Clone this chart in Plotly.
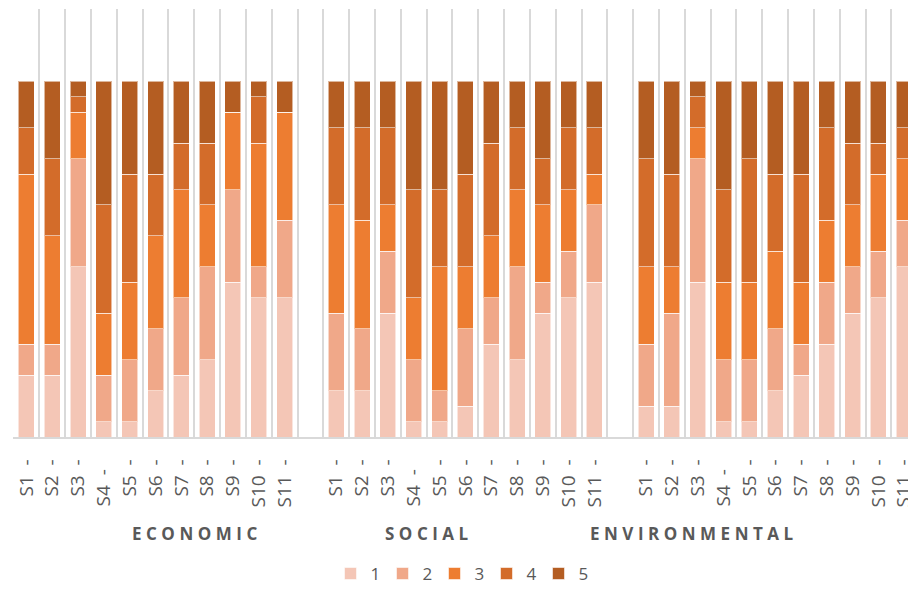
import plotly.graph_objects as go

groups = ["ECONOMIC", "SOCIAL", "ENVIRONMENTAL"]
statements = ["S1", "S2", "S3", "S4", "S5", "S6", "S7", "S8", "S9", "S10", "S11"]
levels = ["1", "2", "3", "4", "5"]

econ_1 = [4, 4, 11, 1, 1, 3, 4, 5, 10, 9, 9]
econ_2 = [2, 2, 7, 3, 4, 4, 5, 6, 6, 2, 5]
econ_3 = [11, 7, 3, 4, 5, 6, 7, 4, 5, 8, 7]
econ_4 = [3, 5, 1, 7, 7, 4, 3, 4, 0, 3, 0]
econ_5 = [3, 5, 1, 8, 6, 6, 4, 4, 2, 1, 2]

social_1 = [3, 3, 8, 1, 1, 2, 6, 5, 8, 9, 10]
social_2 = [5, 4, 4, 4, 2, 5, 3, 6, 2, 3, 5]
social_3 = [7, 7, 3, 4, 8, 4, 4, 5, 5, 4, 2]
social_4 = [5, 6, 5, 7, 5, 6, 6, 4, 3, 4, 3]
social_5 = [3, 3, 3, 7, 7, 6, 4, 3, 5, 3, 3]

env_1 = [2, 2, 10, 1, 1, 3, 4, 6, 8, 9, 11]
env_2 = [4, 6, 8, 4, 4, 4, 2, 4, 3, 3, 3]
env_3 = [5, 3, 2, 5, 5, 5, 4, 4, 4, 5, 4]
env_4 = [7, 6, 2, 6, 8, 5, 7, 6, 4, 2, 2]
env_5 = [5, 6, 1, 7, 5, 6, 6, 3, 4, 4, 3]

series = {
    "1": [econ_1, social_1, env_1],
    "2": [econ_2, social_2, env_2],
    "3": [econ_3, social_3, env_3],
    "4": [econ_4, social_4, env_4],
    "5": [econ_5, social_5, env_5],
}
colors = {"1": "#F4C6B6", "2": "#F0A889", "3": "#ED7D31", "4": "#D36C2A", "5": "#B45D22"}

# positions: each group of 11 followed by one empty slot
n = len(statements)
step = n + 1
xpos, ticktext = [], []
for g in range(len(groups)):
    for i, s in enumerate(statements):
        xpos.append(g * step + i)
        lab = s + "\u00a0\u00a0-"
        if s == "S4":
            lab = s + "\u00a0\u00a0-\u00a0\u00a0"
        ticktext.append(lab)

fig = go.Figure()
for lv in levels:
    vals = [v for grp in series[lv] for v in grp]
    fig.add_trace(go.Bar(
        x=xpos, y=vals, name=lv,
        marker=dict(color=colors[lv], line=dict(color="rgba(255,255,255,0.55)", width=1)),
    ))

total_slots = len(groups) * step - 1
boundaries = [b - 0.5 for b in range(total_slots + 1)]

font_col = "#595959"
fig.update_layout(
    width=908, height=592,
    margin=dict(l=13, r=0, t=9, b=151),
    barmode="stack", barnorm="percent", bargap=0.38,
    plot_bgcolor="white", paper_bgcolor="white",
    font=dict(family="Open Sans", color=font_col),
    showlegend=True,
    legend=dict(orientation="h", x=0.5, xanchor="center", y=-0.32, yanchor="middle",
                font=dict(size=17, color=font_col), traceorder="normal",
                entrywidth=7, entrywidthmode="pixels"),
    xaxis=dict(
        range=[-0.52, -0.52 + 895 / 25.82], tickmode="array",
        tickvals=xpos, ticktext=ticktext, tickangle=-90,
        tickfont=dict(size=19, color=font_col, family="Open Sans"),
        showgrid=False, showline=True, linecolor="#D9D9D9", linewidth=1.5,
        ticks="", ticklabelstandoff=13, automargin=False, zeroline=False,
        ticklabeloverflow="allow",
        minor=dict(tickmode="array", tickvals=boundaries, showgrid=True,
                   gridcolor="#D9D9D9", gridwidth=1.5, ticks=""),
    ),
    yaxis=dict(visible=False, range=[0, 120.3], showgrid=False, zeroline=False),
)

group_x = [6.59, 15.61, 25.84]
for gname, gx in zip(groups, group_x):
    fig.add_annotation(
        x=gx, xref="x", y=-0.2245, yref="paper", yanchor="middle", xanchor="center",
        text='<span style="letter-spacing:4.5px"><b>' + gname + '</b></span>',
        showarrow=False, font=dict(size=17, color=font_col, family="Open Sans"),
    )

fig.write_html("out.html")
